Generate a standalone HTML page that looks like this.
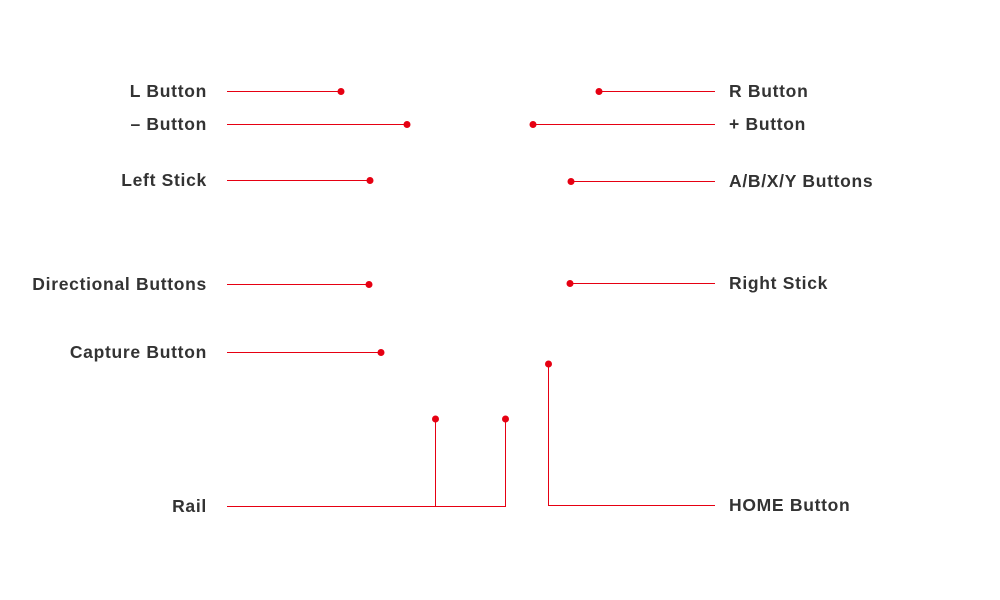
<!DOCTYPE html>
<html><head><meta charset="utf-8"><style>
html,body{margin:0;padding:0;background:#fff;}
svg{display:block;}
text{font-family:"Liberation Sans",sans-serif;font-weight:bold;font-size:17.5px;fill:#333;letter-spacing:0.7px;}
</style></head><body>
<svg width="1000" height="600" viewBox="0 0 1000 600" xmlns="http://www.w3.org/2000/svg">
<g stroke="#e60012" stroke-width="1" fill="none" shape-rendering="crispEdges">
<line x1="227" y1="91.5" x2="341" y2="91.5"/>
<line x1="227" y1="124.5" x2="407" y2="124.5"/>
<line x1="227" y1="180.5" x2="370" y2="180.5"/>
<line x1="227" y1="284.5" x2="369" y2="284.5"/>
<line x1="227" y1="352.5" x2="381" y2="352.5"/>
<polyline points="227,506.5 505.5,506.5 505.5,419"/>
<line x1="435.5" y1="506" x2="435.5" y2="419"/>
<polyline points="548.5,364 548.5,505.5 715,505.5"/>
<line x1="599" y1="91.5" x2="715" y2="91.5"/>
<line x1="533" y1="124.5" x2="715" y2="124.5"/>
<line x1="571" y1="181.5" x2="715" y2="181.5"/>
<line x1="570" y1="283.5" x2="715" y2="283.5"/>
</g>
<g fill="#e60012">
<circle cx="341" cy="91.5" r="3.5"/>
<circle cx="407" cy="124.5" r="3.5"/>
<circle cx="370" cy="180.5" r="3.5"/>
<circle cx="369" cy="284.5" r="3.5"/>
<circle cx="381" cy="352.5" r="3.5"/>
<circle cx="435.5" cy="419" r="3.5"/>
<circle cx="505.5" cy="419" r="3.5"/>
<circle cx="548.5" cy="364" r="3.5"/>
<circle cx="599" cy="91.5" r="3.5"/>
<circle cx="533" cy="124.5" r="3.5"/>
<circle cx="571" cy="181.5" r="3.5"/>
<circle cx="570" cy="283.5" r="3.5"/>
</g>
<g text-anchor="end">
<text x="207" y="97">L Button</text>
<text x="207" y="130">– Button</text>
<text x="207" y="186">Left Stick</text>
<text x="207" y="290">Directional Buttons</text>
<text x="207" y="358">Capture Button</text>
<text x="207" y="512">Rail</text>
</g>
<g>
<text x="729" y="97">R Button</text>
<text x="729" y="130">+ Button</text>
<text x="729" y="187">A/B/X/Y Buttons</text>
<text x="729" y="289">Right Stick</text>
<text x="729" y="511">HOME Button</text>
</g>
</svg>
</body></html>
